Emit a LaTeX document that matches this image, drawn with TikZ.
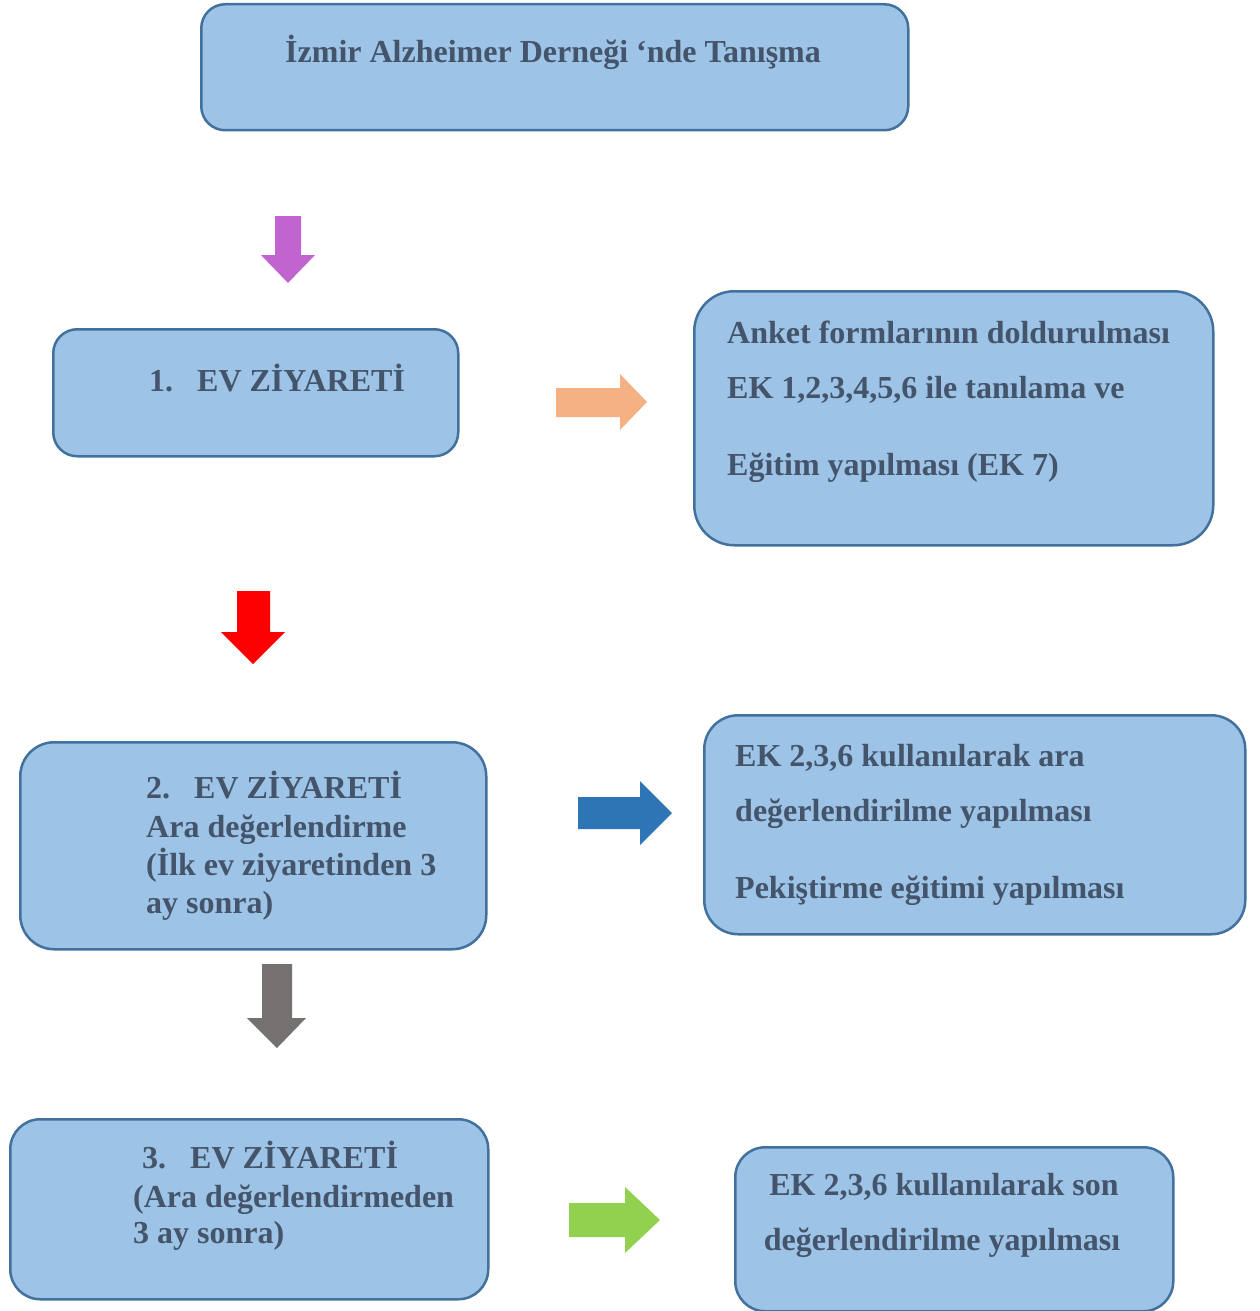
\documentclass[tikz,border=0pt]{standalone}
\usepackage{fontspec}
\setmainfont{Liberation Serif}
\usepackage{tikz}
\usetikzlibrary{positioning}
\definecolor{boxfill}{HTML}{9DC3E6}
\definecolor{boxline}{HTML}{41719C}
\definecolor{txtcol}{HTML}{44546A}
\definecolor{arrpurple}{HTML}{C064D0}
\definecolor{arrorange}{HTML}{F4B183}
\definecolor{arrred}{HTML}{FF0000}
\definecolor{arrblue}{HTML}{2E75B6}
\definecolor{arrgray}{HTML}{767171}
\definecolor{arrgreen}{HTML}{92D050}
\tikzset{
  box/.style={draw=boxline,fill=boxfill,line width=2.5pt,rounded corners=24pt,
    anchor=north west,inner sep=0pt},
  txt/.style={anchor=base west,inner sep=0pt,text=txtcol,
    font=\fontsize{32}{38.5}\selectfont\bfseries}
}
\newcommand\numit[1]{\makebox[48pt][l]{#1}}

\begin{document}
\begin{tikzpicture}[x=1pt,y=-1pt]
\useasboundingbox (0,0) rectangle (1259,1311);
% boxes
\node[box,minimum width=707pt,minimum height=126pt] (b0) at (200,3) {};
\node[box,minimum width=405pt,minimum height=127pt] (b1) at (52,328) {};
\node[box,minimum width=519pt,minimum height=254pt,rounded corners=40pt] (r1) at (693,290) {};
\node[box,minimum width=466pt,minimum height=207pt,rounded corners=34pt] (b2) at (19,741) {};
\node[box,minimum width=541pt,minimum height=219pt,rounded corners=34pt] (r2) at (703,714) {};
\node[box,minimum width=478pt,minimum height=180pt,rounded corners=30pt] (b3) at (9,1118) {};
\node[box,minimum width=438pt,minimum height=164pt,rounded corners=30pt] (r3) at (734,1146) {};
% texts
\node[txt,anchor=base] (t0) at (553,63) {İzmir Alzheimer Derneği ‘nde Tanışma};
\node[txt] (t1) at (149,391) {\numit{1.}EV ZİYARETİ};
\node[txt] (t1a) at (727,343) {Anket formlarının doldurulması};
\node[txt] (t1b) at (727,398) {EK 1,2,3,4,5,6 ile tanılama ve};
\node[txt] (t1c) at (727,475) {Eğitim yapılması (EK 7)};
\node[txt] (t2) at (146,798) {\numit{2.}EV ZİYARETİ};
\node[txt] (t2a) at (146,837) {Ara değerlendirme};
\node[txt] (t2b) at (146,875) {(İlk ev ziyaretinden 3};
\node[txt] (t2c) at (146,913) {ay sonra)};
\node[txt] (t2d) at (735,766) {EK 2,3,6 kullanılarak ara};
\node[txt] (t2e) at (735,821) {değerlendirilme yapılması};
\node[txt] (t2f) at (735,898) {Pekiştirme eğitimi yapılması};
\node[txt] (t3) at (142,1168) {\numit{3.}EV ZİYARETİ};
\node[txt] (t3a) at (133,1207) {(Ara değerlendirmeden};
\node[txt] (t3b) at (133,1243) {3 ay sonra)};
\node[txt,anchor=base] (t3c) at (944,1195) {EK 2,3,6 kullanılarak son};
\node[txt,anchor=base] (t3d) at (942,1250) {değerlendirilme yapılması};
% block arrows
\fill[arrpurple] (275,216) -- (301,216) -- (301,255) -- (315,255) -- (288,283) -- (261,255) -- (275,255) -- cycle;
\fill[arrorange] (556,388) -- (620,388) -- (620,374) -- (647,402) -- (620,430) -- (620,417) -- (556,417) -- cycle;
\fill[arrred] (237,591) -- (270,591) -- (270,632) -- (285,632) -- (253,664) -- (221,632) -- (237,632) -- cycle;
\fill[arrblue] (578,797) -- (640,797) -- (640,781) -- (672,813) -- (640,845) -- (640,829) -- (578,829) -- cycle;
\fill[arrgray] (262,964) -- (292,964) -- (292,1018) -- (306,1018) -- (277,1048) -- (247,1018) -- (262,1018) -- cycle;
\fill[arrgreen] (569,1203) -- (625,1203) -- (625,1187) -- (660,1220) -- (625,1253) -- (625,1237) -- (569,1237) -- cycle;
\end{tikzpicture}
\end{document}
